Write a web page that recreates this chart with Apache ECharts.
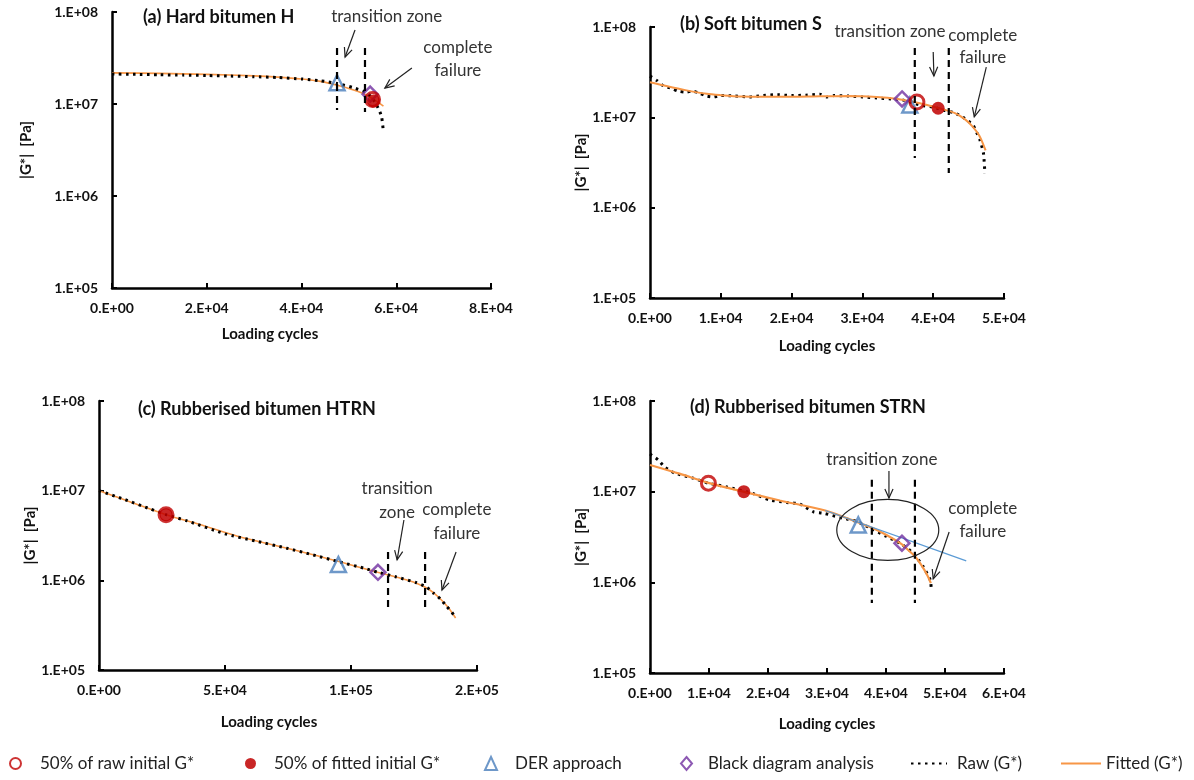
<!DOCTYPE html>
<html>
<head>
<meta charset="utf-8">
<script src="https://cdn.jsdelivr.net/npm/echarts@6/dist/echarts.min.js"></script>
<style>
  html, body { margin: 0; padding: 0; background: #fff; }
  #chart { width: 1194px; height: 780px; }
</style>
</head>
<body>
<div id="chart"></div>
<script>
// ---------- (a) Hard bitumen H ----------
const rawA_x = [0, 5000, 10000, 15000, 20000, 25000, 30000, 35000, 40000, 44000, 47500, 51000, 53800, 55200, 56200, 56900, 57300];
const rawA_y = [2.12e7, 2.10e7, 2.08e7, 2.06e7, 2.04e7, 2.01e7, 1.98e7, 1.94e7, 1.87e7, 1.79e7, 1.67e7, 1.50e7, 1.32e7, 1.10e7, 9.0e6, 7.3e6, 4.9e6];
const fitA_x = [0, 10000, 20000, 30000, 35000, 40000, 44000, 47500, 51000, 54000, 57300];
const fitA_y = [2.18e7, 2.15e7, 2.10e7, 2.02e7, 1.96e7, 1.87e7, 1.76e7, 1.60e7, 1.42e7, 1.23e7, 9.5e6];
const rawHalfA = [[55000, 1.12e7]];
const fitHalfA = [[55200, 1.08e7]];
const derA = [[47500, 1.70e7]];
const blackA = [[54500, 1.28e7]];

// ---------- (b) Soft bitumen S ----------
const rawB_x = [0, 1000, 2000, 3000, 4000, 5000, 6000, 7000, 8000, 9000, 10000, 12000, 14000, 16000, 18000, 20000, 22000, 24000, 25000, 26000, 28000, 30000, 32000, 34000, 35500, 37000, 38500, 40000, 41500, 43000, 44200, 45600, 46600, 47100, 47300];
const rawB_y = [2.86e7, 2.55e7, 2.20e7, 2.10e7, 1.95e7, 1.90e7, 1.95e7, 1.85e7, 1.72e7, 1.68e7, 1.75e7, 1.72e7, 1.68e7, 1.75e7, 1.78e7, 1.74e7, 1.76e7, 1.80e7, 1.68e7, 1.74e7, 1.72e7, 1.68e7, 1.64e7, 1.60e7, 1.57e7, 1.45e7, 1.35e7, 1.30e7, 1.20e7, 1.12e7, 1.00e7, 8.2e6, 5.6e6, 4.0e6, 2.4e6];
const fitB_x = [0, 2000, 5000, 8000, 10000, 13000, 16000, 20000, 24000, 28000, 32000, 35000, 37000, 39000, 41000, 43000, 44500, 45500, 46500, 47400];
const fitB_y = [2.45e7, 2.25e7, 2.00e7, 1.82e7, 1.76e7, 1.70e7, 1.69e7, 1.69e7, 1.71e7, 1.72e7, 1.68e7, 1.60e7, 1.50e7, 1.38e7, 1.25e7, 1.12e7, 9.5e6, 8.0e6, 6.3e6, 4.3e6];
const rawHalfB = [[37700, 1.48e7]];
const fitHalfB = [[40700, 1.26e7]];
const derB = [[36700, 1.37e7]];
const blackB = [[35600, 1.60e7]];

// ---------- (c) Rubberised bitumen HTRN ----------
const rawC_x = [0, 10000, 20000, 26600, 35000, 50000, 62000, 74500, 85000, 95200, 105000, 110600, 118000, 126000, 130000, 132700, 135500, 138000, 140000, 141300];
const rawC_y = [1.0e7, 8.0e6, 6.3e6, 5.4e6, 4.6e6, 3.3e6, 2.75e6, 2.28e6, 1.92e6, 1.61e6, 1.37e6, 1.23e6, 1.09e6, 9.4e5, 8.4e5, 7.2e5, 6.2e5, 5.1e5, 4.4e5, 3.9e5];
const fitC_x = [0, 13000, 26600, 40000, 55000, 70000, 85000, 95200, 110600, 120000, 126000, 131000, 135000, 138500, 141500];
const fitC_y = [1.0e7, 7.4e6, 5.4e6, 4.2e6, 3.1e6, 2.45e6, 1.93e6, 1.62e6, 1.23e6, 1.05e6, 9.3e5, 7.9e5, 6.4e5, 5.0e5, 3.8e5];
const rawHalfC = [[26600, 5.4e6]];
const fitHalfC = [[26600, 5.4e6]];
const derC = [[95000, 1.50e6]];
const blackC = [[110700, 1.23e6]];

// ---------- (d) Rubberised bitumen STRN ----------
const rawD_x = [0, 1400, 2500, 4200, 7300, 9900, 13000, 17500, 20300, 23200, 25400, 27700, 29300, 32700, 35000, 37900, 40100, 42400, 44600, 46300, 47500, 47700];
const rawD_y = [2.6e7, 2.24e7, 1.87e7, 1.60e7, 1.41e7, 1.24e7, 1.13e7, 9.5e6, 8.1e6, 7.6e6, 7.3e6, 6.0e6, 5.8e6, 5.1e6, 4.7e6, 3.8e6, 3.2e6, 2.7e6, 2.09e6, 1.49e6, 1.06e6, 8.0e5];
const fitD_x = [0, 5000, 9900, 15800, 22000, 29700, 35000, 38000, 40000, 42400, 44000, 45000, 46000, 47000, 47600];
const fitD_y = [1.97e7, 1.58e7, 1.25e7, 1.0e7, 8.0e6, 6.2e6, 4.65e6, 3.9e6, 3.35e6, 2.7e6, 2.2e6, 1.9e6, 1.55e6, 1.2e6, 9.8e5];
const trendD_x = [29700, 53600];
const trendD_y = [6.2e6, 1.72e6];
const rawHalfD = [[9900, 1.24e7]];
const fitHalfD = [[15900, 1.0e7]];
const derD = [[35300, 4.3e6]];
const blackD = [[42700, 2.7e6]];

// ---------- zone guides (x, top, bottom) ----------
const dividersA = [[47500, 4.07e7, 8.6e6], [53400, 4.07e7, 8.2e6]];
const dividersB = [[37400, 5.87e7, 3.55e6], [42200, 5.87e7, 2.42e6]];
const dividersC = [[114700, 2.07e6, 4.43e5], [129400, 2.07e6, 4.43e5]];
const dividersD = [[37600, 1.35e7, 5.9e5], [44900, 1.35e7, 5.9e5]];

// ---------- pointer arrows (x1, y1, x2, y2) ----------
const arrowsA = [[51300, 6.37e7, 49200, 3.24e7], [63300, 2.46e7, 57600, 1.49e7]];
const arrowsB = [[40000, 5.28e7, 40100, 2.87e7], [47500, 3.6e7, 45800, 1.01e7]];
const arrowsC = [[121000, 4.71e6, 118300, 1.69e6], [141700, 2.07e6, 136100, 7.8e5]];
const arrowsD = [[40500, 1.69e7, 40500, 8.5e6], [50700, 3.59e6, 48000, 1.09e6]];

// ---------- annotation texts ----------
const notesA = [[58000, 8.83e7], [73000, 4.07e7], [73000, 2.34e7]];
const notesA_text = ['transition zone', 'complete', 'failure'];
const notesB = [[33900, 8.8e7], [47000, 8.15e7], [47000, 4.54e7]];
const notesB_text = ['transition zone', 'complete', 'failure'];
const notesC = [[118300, 1.045e7], [118300, 5.64e6], [142000, 6.09e6], [142000, 3.37e6]];
const notesC_text = ['transition', 'zone', 'complete', 'failure'];
const notesD = [[39300, 2.29e7], [56400, 6.44e6], [56400, 3.59e6]];
const notesD_text = ['transition zone', 'complete', 'failure'];
const ringD = [[40300, 3.78e6]];

const xTickMax = [80000, 50000, 150000, 60000];
const xTickStep = [20000, 10000, 50000, 10000];
const panelTitles = ['(a) Hard bitumen H', '(b) Soft bitumen S', '(c) Rubberised bitumen HTRN', '(d) Rubberised bitumen STRN'];

const FONT = 'Lato, "Noto Sans", sans-serif';
const ORANGE = '#f79646';
const RED = '#c00000';
const BLUE = '#4a7ebb';
const PURPLE = '#7030a0';

const zip = (xs, ys) => xs.map((x, i) => [x, ys[i]]);
const pad2 = n => (n < 10 ? '0' : '') + n;
function sciLabel(v) {
  if (v === 0) return '0.E+00';
  let e = Math.floor(Math.log10(v) + 1e-9);
  let m = Math.round(v / Math.pow(10, e));
  if (m === 10) { m = 1; e += 1; }
  return m + '.E+' + pad2(e);
}

const grids = [
  { left: 112, top: 12, width: 379, height: 276 },
  { left: 650, top: 27, width: 354, height: 271 },
  { left: 99, top: 401, width: 378, height: 269 },
  { left: 650, top: 401, width: 354, height: 272 }
];
const xNameGap = [39, 41, 45, 44];
const xNamePad = [[0, 63, 0, 0], [0, 0, 0, 0], [0, 38, 0, 0], [0, 0, 0, 0]];
const yNameGap = [78, 57, 59, 57];

const xAxes = grids.map((g, i) => ({
  type: 'value', gridIndex: i, min: 0, max: xTickMax[i], interval: xTickStep[i],
  name: 'Loading cycles', nameLocation: 'middle', nameGap: xNameGap[i],
  nameTextStyle: { fontFamily: FONT, fontWeight: 'bold', fontSize: 15, color: '#111', padding: xNamePad[i] },
  axisLine: { lineStyle: { color: '#000', width: 2.5 } },
  axisTick: { inside: true, length: 5, lineStyle: { color: '#000', width: 2 } },
  axisLabel: { formatter: sciLabel, margin: 13, fontFamily: FONT, fontWeight: 'bold', fontSize: 14, color: '#111' },
  splitLine: { show: false }
}));
const yAxes = grids.map((g, i) => ({
  type: 'log', logBase: 10, gridIndex: i, min: 1e5, max: 1e8,
  name: '|G*|  [Pa]', nameLocation: 'middle', nameGap: yNameGap[i],
  nameTextStyle: { fontFamily: FONT, fontWeight: 'bold', fontSize: 15, color: '#111' },
  axisLine: { show: true, lineStyle: { color: '#000', width: 2.5 } },
  axisTick: { show: true, inside: true, length: 5, lineStyle: { color: '#000', width: 2 } },
  axisLabel: { formatter: sciLabel, margin: 14, fontFamily: FONT, fontWeight: 'bold', fontSize: 14, color: '#111' },
  splitLine: { show: false },
  minorTick: { show: false }
}));

function fittedLine(i, xs, ys, w) {
  return { name: 'Fitted (G*)', type: 'line', xAxisIndex: i, yAxisIndex: i, data: zip(xs, ys),
    symbol: 'none', smooth: 0.3, silent: true,
    lineStyle: { color: ORANGE, width: w }, itemStyle: { color: ORANGE } };
}
function rawLine(i, xs, ys) {
  return { name: 'Raw (G*)', type: 'line', xAxisIndex: i, yAxisIndex: i, data: zip(xs, ys),
    symbol: 'none', smooth: 0.2, silent: true,
    lineStyle: { color: '#000', width: 3, type: [2.5, 4.5], cap: 'butt' }, itemStyle: { color: '#000' } };
}
function points(i, name, data, symbol, size, style) {
  return { name, type: 'scatter', xAxisIndex: i, yAxisIndex: i, data, symbol, symbolSize: size, z: 4, silent: true, itemStyle: style };
}
function markerSet(i, rawHalf, fitHalf, der, black) {
  return [
    points(i, 'DER approach', der, 'triangle', 15, { color: 'rgba(255,255,255,0)', borderColor: BLUE, borderWidth: 2.5 }),
    points(i, 'Black diagram analysis', black, 'diamond', 15, { color: 'rgba(255,255,255,0)', borderColor: PURPLE, borderWidth: 2.5 }),
    points(i, '50% of raw initial G*', rawHalf, 'circle', 14, { color: 'rgba(255,255,255,0)', borderColor: RED, borderWidth: 3 }),
    points(i, '50% of fitted initial G*', fitHalf, 'circle', 13, { color: RED, opacity: 0.85 })
  ];
}
function dividerSeries(i, data) {
  return { type: 'custom', xAxisIndex: i, yAxisIndex: i, data, z: 6, silent: true,
    encode: { x: 0, y: [1, 2] },
    renderItem(params, api) {
      const p1 = api.coord([api.value(0), api.value(1)]);
      const p2 = api.coord([api.value(0), api.value(2)]);
      return { type: 'line', shape: { x1: p1[0], y1: p1[1], x2: p2[0], y2: p2[1] },
        style: { stroke: '#000', lineWidth: 2.2, lineDash: [7, 5] } };
    } };
}
function arrowSeries(i, data) {
  return { type: 'custom', xAxisIndex: i, yAxisIndex: i, data, z: 6, silent: true,
    encode: { x: [0, 2], y: [1, 3] },
    renderItem(params, api) {
      const p1 = api.coord([api.value(0), api.value(1)]);
      const p2 = api.coord([api.value(2), api.value(3)]);
      const a = Math.atan2(p2[1] - p1[1], p2[0] - p1[0]);
      const L = 10, s = 0.42;
      const h1 = [p2[0] - L * Math.cos(a - s), p2[1] - L * Math.sin(a - s)];
      const h2 = [p2[0] - L * Math.cos(a + s), p2[1] - L * Math.sin(a + s)];
      const st = { stroke: '#222', lineWidth: 1.2, fill: 'none' };
      return { type: 'group', children: [
        { type: 'line', shape: { x1: p1[0], y1: p1[1], x2: p2[0], y2: p2[1] }, style: st },
        { type: 'polyline', shape: { points: [h1, p2, h2] }, style: st }
      ] };
    } };
}
function noteSeries(i, data, texts) {
  return { type: 'custom', xAxisIndex: i, yAxisIndex: i, data, z: 6, silent: true,
    encode: { x: 0, y: 1 },
    renderItem(params, api) {
      const p = api.coord([api.value(0), api.value(1)]);
      return { type: 'text', x: p[0], y: p[1],
        style: { text: texts[params.dataIndex], fill: '#333', fontSize: 17, fontFamily: FONT,
          align: 'center', verticalAlign: 'middle' } };
    } };
}
function ringSeries(i, data) {
  return { type: 'custom', xAxisIndex: i, yAxisIndex: i, data, z: 6, silent: true,
    encode: { x: 0, y: 1 },
    renderItem(params, api) {
      const p = api.coord([api.value(0), api.value(1)]);
      return { type: 'ellipse', shape: { cx: p[0], cy: p[1], rx: 51, ry: 30.5 },
        style: { fill: 'none', stroke: '#222', lineWidth: 1.2 } };
    } };
}

const series = [
  // (a)
  fittedLine(0, fitA_x, fitA_y, 1.6), rawLine(0, rawA_x, rawA_y), ...markerSet(0, rawHalfA, fitHalfA, derA, blackA),
  dividerSeries(0, dividersA), arrowSeries(0, arrowsA), noteSeries(0, notesA, notesA_text),
  // (b)
  rawLine(1, rawB_x, rawB_y), fittedLine(1, fitB_x, fitB_y, 2), ...markerSet(1, rawHalfB, fitHalfB, derB, blackB),
  dividerSeries(1, dividersB), arrowSeries(1, arrowsB), noteSeries(1, notesB, notesB_text),
  // (c)
  fittedLine(2, fitC_x, fitC_y, 1.6), rawLine(2, rawC_x, rawC_y), ...markerSet(2, rawHalfC, fitHalfC, derC, blackC),
  dividerSeries(2, dividersC), arrowSeries(2, arrowsC), noteSeries(2, notesC, notesC_text),
  // (d)
  rawLine(3, rawD_x, rawD_y), fittedLine(3, fitD_x, fitD_y, 2.2),
  { type: 'line', xAxisIndex: 3, yAxisIndex: 3, data: zip(trendD_x, trendD_y), symbol: 'none', silent: true,
    lineStyle: { color: '#5b9bd5', width: 1.3 } },
  ...markerSet(3, rawHalfD, fitHalfD, derD, blackD),
  dividerSeries(3, dividersD), arrowSeries(3, arrowsD), noteSeries(3, notesD, notesD_text), ringSeries(3, ringD)
];

const titleLeft = [143, 680, 138, 690];
const titleTop = [8, 15, 400, 398];
const titles = panelTitles.map((t, i) => ({
  text: t, left: titleLeft[i], top: titleTop[i], padding: 0,
  textStyle: { fontFamily: FONT, fontWeight: 'bold', fontSize: 18, color: '#111' }
}));

// legend entries: [name, left, itemWidth, text offset, hide icon symbol]
const legendItems = [
  ['50% of raw initial G*', 9, 11, 14, false],
  ['50% of fitted initial G*', 245, 11, 13, false],
  ['DER approach', 484, 12, 13, false],
  ['Black diagram analysis', 680, 11, 11, false],
  ['Raw (G*)', 910, 36, 5, true],
  ['Fitted (G*)', 1060, 40, 0, true]
];
const legends = legendItems.map(([name, left, w, off, bare]) => {
  const lg = {
    data: [name], left, top: 755, itemWidth: w, itemHeight: bare ? 14 : 13, selectedMode: false, padding: 0,
    textStyle: { fontFamily: FONT, fontSize: 17, color: '#222', padding: [0, 0, 0, off] }
  };
  if (bare) lg.itemStyle = { opacity: 0 };
  return lg;
});

const chart = echarts.init(document.getElementById('chart'), null, { renderer: 'canvas' });
chart.setOption({
  animation: false,
  backgroundColor: '#fff',
  title: titles,
  legend: legends,
  grid: grids,
  xAxis: xAxes,
  yAxis: yAxes,
  series
});
</script>
</body>
</html>
